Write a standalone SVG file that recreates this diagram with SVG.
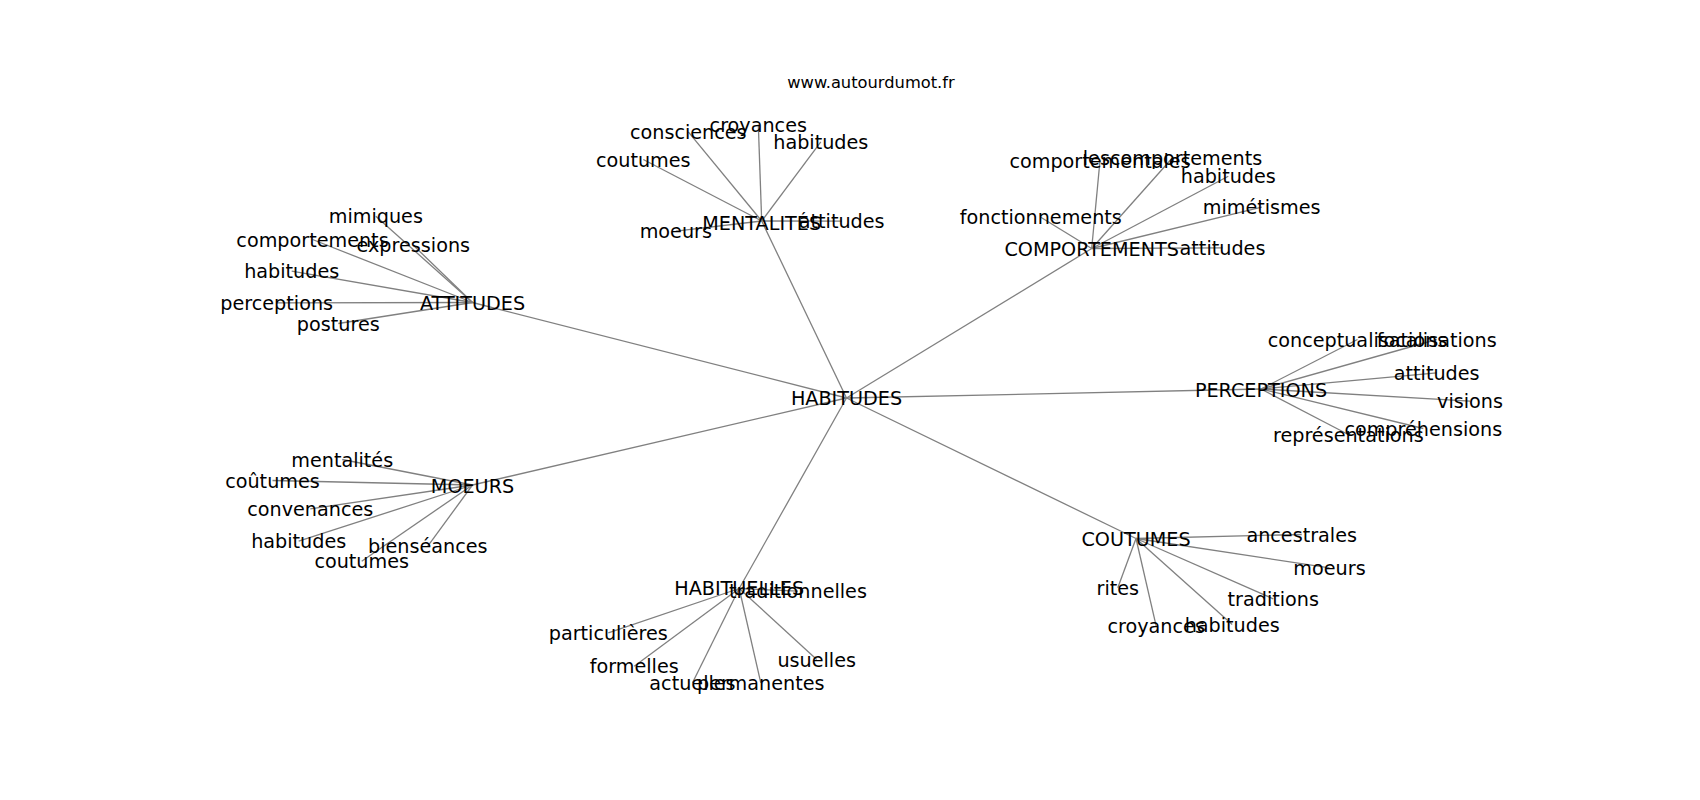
<svg xmlns="http://www.w3.org/2000/svg" width="1700" height="800" viewBox="0 0 1700 800">
<style>
text{font-family:"DejaVu Sans",sans-serif;font-size:19.2px;fill:#000;text-anchor:middle}
.t{font-size:16.3px}
#edges line{stroke:#808080;stroke-width:1.3}
</style>
<rect width="1700" height="800" fill="#fff"/>
<text class="t" x="871" y="88">www.autourdumot.fr</text>
<g id="edges">
<line x1="846.5" y1="398" x2="761.7" y2="221"/>
<line x1="846.5" y1="398" x2="472.5" y2="302.5"/>
<line x1="846.5" y1="398" x2="1091.7" y2="248.5"/>
<line x1="846.5" y1="398" x2="1261" y2="389"/>
<line x1="846.5" y1="398" x2="472.5" y2="485"/>
<line x1="846.5" y1="398" x2="739.2" y2="588.5"/>
<line x1="846.5" y1="398" x2="1136" y2="538.5"/>
<line x1="761.7" y1="221" x2="643.3" y2="159.5"/>
<line x1="761.7" y1="221" x2="688.3" y2="131.8"/>
<line x1="761.7" y1="221" x2="758.3" y2="124.5"/>
<line x1="761.7" y1="221" x2="820.8" y2="141.8"/>
<line x1="761.7" y1="221" x2="675.8" y2="231.2"/>
<line x1="761.7" y1="221" x2="841.7" y2="221.2"/>
<line x1="472.5" y1="302.5" x2="375.8" y2="216.2"/>
<line x1="472.5" y1="302.5" x2="312.5" y2="239.5"/>
<line x1="472.5" y1="302.5" x2="413.3" y2="245.2"/>
<line x1="472.5" y1="302.5" x2="291.7" y2="271.2"/>
<line x1="472.5" y1="302.5" x2="276.7" y2="302.8"/>
<line x1="472.5" y1="302.5" x2="338.3" y2="323.5"/>
<line x1="1091.7" y1="248.5" x2="1100" y2="160.5"/>
<line x1="1091.7" y1="248.5" x2="1172.5" y2="157.8"/>
<line x1="1091.7" y1="248.5" x2="1228.3" y2="176.2"/>
<line x1="1091.7" y1="248.5" x2="1261.7" y2="207.2"/>
<line x1="1091.7" y1="248.5" x2="1040.8" y2="217.2"/>
<line x1="1091.7" y1="248.5" x2="1222.5" y2="247.8"/>
<line x1="1261" y1="389" x2="1357.5" y2="339.5"/>
<line x1="1261" y1="389" x2="1436.7" y2="339.5"/>
<line x1="1261" y1="389" x2="1436.7" y2="372.8"/>
<line x1="1261" y1="389" x2="1470" y2="401.2"/>
<line x1="1261" y1="389" x2="1423.3" y2="428.5"/>
<line x1="1261" y1="389" x2="1348.3" y2="434.5"/>
<line x1="472.5" y1="485" x2="342.2" y2="459.5"/>
<line x1="472.5" y1="485" x2="272.5" y2="480.5"/>
<line x1="472.5" y1="485" x2="310.3" y2="508.8"/>
<line x1="472.5" y1="485" x2="298.7" y2="541.2"/>
<line x1="472.5" y1="485" x2="427.8" y2="546.2"/>
<line x1="472.5" y1="485" x2="361.7" y2="561.2"/>
<line x1="739.2" y1="588.5" x2="798" y2="591.2"/>
<line x1="739.2" y1="588.5" x2="608.3" y2="632.8"/>
<line x1="739.2" y1="588.5" x2="634.2" y2="666.2"/>
<line x1="739.2" y1="588.5" x2="692.5" y2="682.8"/>
<line x1="739.2" y1="588.5" x2="760.8" y2="682.8"/>
<line x1="739.2" y1="588.5" x2="816.7" y2="659.5"/>
<line x1="1136" y1="538.5" x2="1301.7" y2="534.5"/>
<line x1="1136" y1="538.5" x2="1329.5" y2="567.8"/>
<line x1="1136" y1="538.5" x2="1117.8" y2="587.8"/>
<line x1="1136" y1="538.5" x2="1273.3" y2="598.8"/>
<line x1="1136" y1="538.5" x2="1156.2" y2="626.2"/>
<line x1="1136" y1="538.5" x2="1232.2" y2="624.5"/>
</g>
<g id="n-habitudes"><text x="846.5" y="405">HABITUDES</text></g>
<g id="n-mentalites"><text x="761.7" y="229.5">MENTALITÉS</text></g>
<g id="n-attitudes"><text x="472.5" y="309.5">ATTITUDES</text></g>
<g id="n-comportements"><text x="1091.7" y="255.8">COMPORTEMENTS</text></g>
<g id="n-perceptions"><text x="1261" y="396.5">PERCEPTIONS</text></g>
<g id="n-moeurs"><text x="472.5" y="492.5">MOEURS</text></g>
<g id="n-habituelles"><text x="739.2" y="595">HABITUELLES</text></g>
<g id="n-coutumes"><text x="1136" y="545.5">COUTUMES</text></g>
<g id="m-coutumes"><text x="643.3" y="166.5">coutumes</text></g>
<g id="m-consciences"><text x="688.3" y="138.8">consciences</text></g>
<g id="m-croyances"><text x="758.3" y="131.5">croyances</text></g>
<g id="m-habitudes"><text x="820.8" y="148.8">habitudes</text></g>
<g id="m-moeurs"><text x="675.8" y="238.2">moeurs</text></g>
<g id="m-attitudes"><text x="841.7" y="228.2">attitudes</text></g>
<g id="a-mimiques"><text x="375.8" y="223.2">mimiques</text></g>
<g id="a-comportements"><text x="312.5" y="246.5">comportements</text></g>
<g id="a-expressions"><text x="413.3" y="252.2">expressions</text></g>
<g id="a-habitudes"><text x="291.7" y="278.2">habitudes</text></g>
<g id="a-perceptions"><text x="276.7" y="309.8">perceptions</text></g>
<g id="a-postures"><text x="338.3" y="330.5">postures</text></g>
<g id="c-comportementales"><text x="1100" y="167.5">comportementales</text></g>
<g id="c-lescomportements"><text x="1172.5" y="164.8">lescomportements</text></g>
<g id="c-habitudes"><text x="1228.3" y="183.2">habitudes</text></g>
<g id="c-mimetismes"><text x="1261.7" y="214.2">mimétismes</text></g>
<g id="c-fonctionnements"><text x="1040.8" y="224.2">fonctionnements</text></g>
<g id="c-attitudes"><text x="1222.5" y="254.8">attitudes</text></g>
<g id="p-conceptualisations"><text x="1357.5" y="346.5">conceptualisations</text></g>
<g id="p-focalisations"><text x="1436.7" y="346.5">focalisations</text></g>
<g id="p-attitudes"><text x="1436.7" y="379.8">attitudes</text></g>
<g id="p-visions"><text x="1470" y="408.2">visions</text></g>
<g id="p-comprehensions"><text x="1423.3" y="435.5">compréhensions</text></g>
<g id="p-representations"><text x="1348.3" y="441.5">représentations</text></g>
<g id="o-mentalites"><text x="342.2" y="466.5">mentalités</text></g>
<g id="o-coutumes1"><text x="272.5" y="487.5">coûtumes</text></g>
<g id="o-convenances"><text x="310.3" y="515.8">convenances</text></g>
<g id="o-habitudes"><text x="298.7" y="548.2">habitudes</text></g>
<g id="o-bienseances"><text x="427.8" y="553.2">bienséances</text></g>
<g id="o-coutumes2"><text x="361.7" y="568.2">coutumes</text></g>
<g id="h-traditionnelles"><text x="798" y="598.2">traditionnelles</text></g>
<g id="h-particulieres"><text x="608.3" y="639.8">particulières</text></g>
<g id="h-formelles"><text x="634.2" y="673.2">formelles</text></g>
<g id="h-actuelles"><text x="692.5" y="689.8">actuelles</text></g>
<g id="h-permanentes"><text x="760.8" y="689.8">permanentes</text></g>
<g id="h-usuelles"><text x="816.7" y="666.5">usuelles</text></g>
<g id="u-ancestrales"><text x="1301.7" y="541.5">ancestrales</text></g>
<g id="u-moeurs"><text x="1329.5" y="574.8">moeurs</text></g>
<g id="u-rites"><text x="1117.8" y="594.8">rites</text></g>
<g id="u-traditions"><text x="1273.3" y="605.8">traditions</text></g>
<g id="u-croyances"><text x="1156.2" y="633.2">croyances</text></g>
<g id="u-habitudes"><text x="1232.2" y="631.5">habitudes</text></g>
</svg>
